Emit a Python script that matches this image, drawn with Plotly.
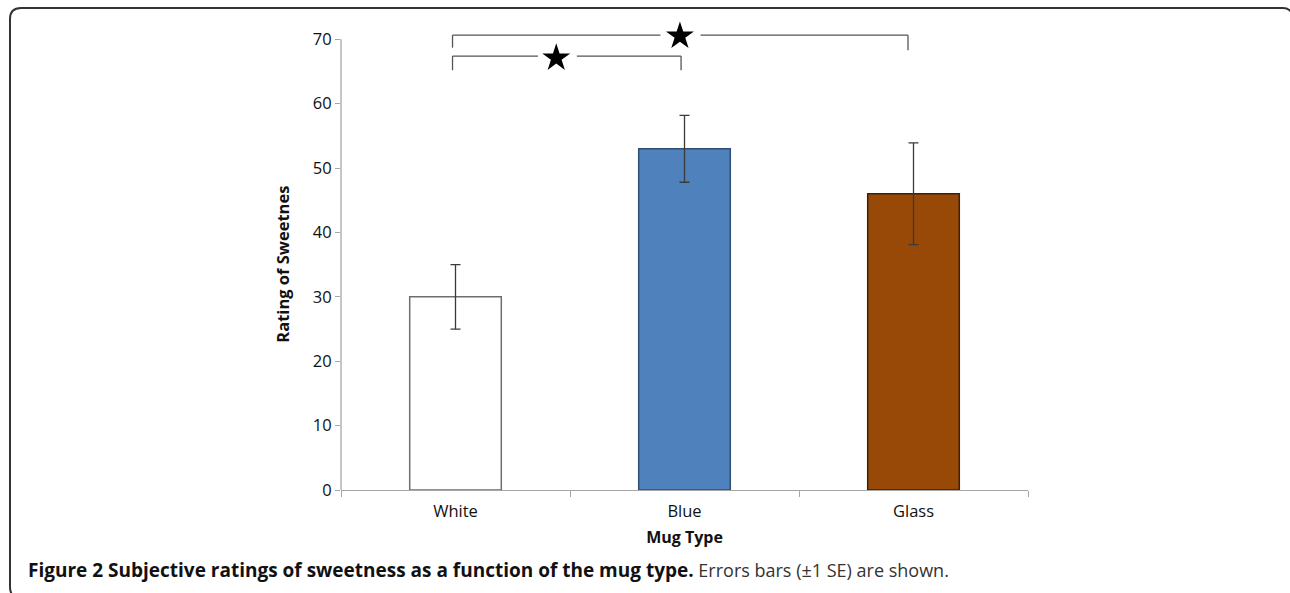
import plotly.graph_objects as go

# ---- data ----
categories = ["White", "Blue", "Glass"]
ratings = [30.0, 53.0, 46.0]
se = [5.0, 5.2, 7.9]
y_ticks = [0, 10, 20, 30, 40, 50, 60, 70]
bar_fill = ["#FFFFFF", "#4F81BD", "#984807"]
bar_line = ["#6E6E6E", "#2F4F75", "#3F2106"]

# significance brackets: (left idx, right idx, line y, left leg bottom, right leg bottom, star x, gap left, gap right, star y)
brackets = [
    (-0.013, 0.985, 67.4, 65.2, 65.2, 0.44, 0.36, 0.53, 67.1),
    (-0.013, 1.976, 70.65, 68.7, 68.3, 0.98, 0.895, 1.07, 70.5),
]

W, H = 1290, 593
ML, MR, MT, MB = 341, 262, 20, 103
PW, PH = W - ML - MR, H - MT - MB


def px(x):
    return (x - ML) / PW


def py(y):
    return (H - MB - y) / PH


fig = go.Figure()
fig.add_trace(go.Bar(
    x=categories, y=ratings, width=0.4,
    marker=dict(color=bar_fill, line=dict(color=bar_line, width=1.5)),
    error_y=dict(type="data", array=se, visible=True, color="#3A3A3A",
                 thickness=1.3, width=5),
    showlegend=False,
))

shapes = []
star_x, star_y = [], []
for (xl, xr, yl, bl, br, sx, gl, gr, sy) in brackets:
    for (a, b, c, d) in [(xl, xl, bl, yl), (xl, gl, yl, yl), (gr, xr, yl, yl), (xr, xr, br, yl)]:
        shapes.append(dict(type="line", xref="x", yref="y", x0=a, x1=b, y0=c, y1=d,
                           line=dict(color="#555555", width=1.3)))
    star_x.append(sx)
    star_y.append(sy)

# y axis line from 0 to 70 only
shapes.append(dict(type="line", xref="paper", yref="y", x0=0, x1=0, y0=0, y1=70,
                   line=dict(color="#A6A6A6", width=1.3)))

# rounded outer frame
frame = (f"M {px(16)},{py(598)} Q {px(10)},{py(595)} {px(10)},{py(587)} "
         f"L {px(10)},{py(19)} Q {px(10)},{py(8)} {px(21)},{py(8)} "
         f"L {px(1283)},{py(8)} Q {px(1289)},{py(8)} {px(1292)},{py(13)}")
shapes.append(dict(type="path", xref="paper", yref="paper", path=frame,
                   line=dict(color="#333333", width=2)))

fig.add_trace(go.Scatter(
    x=star_x, y=star_y, mode="markers", xaxis="x2",
    marker=dict(symbol="star", size=21, color="#000000"),
    cliponaxis=False, showlegend=False, hoverinfo="skip",
))

font_main = "Open Sans, Noto Sans, sans-serif"

fig.update_layout(
    width=W, height=H, autosize=False,
    margin=dict(l=ML, r=MR, t=MT, b=MB),
    plot_bgcolor="white", paper_bgcolor="white",
    font=dict(family=font_main, color="#000000"),
    shapes=shapes,
    xaxis=dict(
        type="category", range=[-0.5, 2.5],
        showline=True, linecolor="#A6A6A6", linewidth=1.3,
        ticks="outside", tickson="boundaries", ticklen=6, tickcolor="#A6A6A6",
        ticklabelstandoff=6,
        showgrid=False, zeroline=False,
        tickfont=dict(size=16.5, family=font_main, color="#111111"),
        title=dict(text="<b>Mug Type</b>", font=dict(size=16, family=font_main, color="#111111"),
                   standoff=10),
    ),
    xaxis2=dict(
        overlaying="x", range=[-0.5, 2.5], visible=False, anchor="y",
    ),
    yaxis=dict(
        range=[0, 73], tickvals=y_ticks, showline=False,
        ticks="outside", ticklen=5, tickcolor="#A6A6A6",
        showgrid=False, zeroline=False,
        tickfont=dict(size=16.5, family=font_main, color="#111111"),
    ),
    annotations=[
        dict(text="<b>Rating of Sweetnes</b>", xref="paper", yref="y",
             x=px(283), y=35, textangle=-90, showarrow=False,
             font=dict(size=16.5, family=font_main, color="#111111"),
             xanchor="center", yanchor="middle"),
        dict(text="<b>Figure 2 Subjective ratings of sweetness as a function of the mug type.</b>"
                  "<span style='font-size:18px;color:#333333'> Errors bars (±1 SE) are shown.</span>",
             xref="paper", yref="paper", x=px(26), y=py(570),
             xanchor="left", yanchor="middle", showarrow=False,
             font=dict(size=19, family=font_main, color="#111111")),
    ],
)

fig.write_html("out.html", config={"displayModeBar": False},
               post_script="document.body.style.margin='0';")
